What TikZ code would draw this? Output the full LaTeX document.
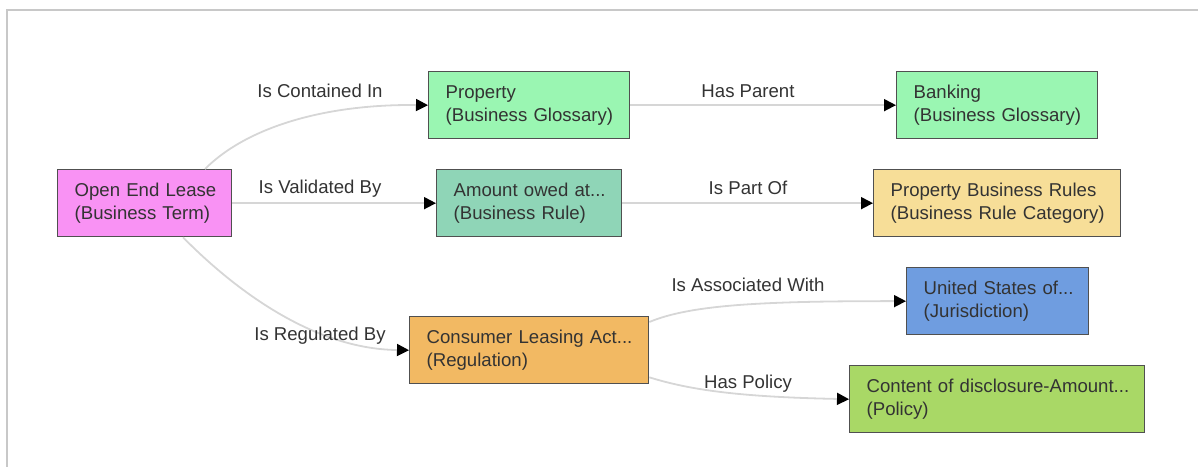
\documentclass[tikz,border=0pt]{standalone}
\usepackage{fontspec}
\setmainfont{Liberation Sans}
\usetikzlibrary{arrows.meta}
\definecolor{txt}{HTML}{333333}
\definecolor{edgec}{HTML}{D6D6D6}
\definecolor{framec}{HTML}{C8C8C8}
\definecolor{bord}{HTML}{505050}
\definecolor{cpink}{HTML}{F992F4}
\definecolor{cmint}{HTML}{9AF6B2}
\definecolor{caqua}{HTML}{8FD5B7}
\definecolor{cyell}{HTML}{F7DE98}
\definecolor{corange}{HTML}{F2B963}
\definecolor{cblue}{HTML}{6F9DE0}
\definecolor{clime}{HTML}{A9D866}
\newcommand{\twolines}[2]{\mbox{#1}\\\mbox{#2}}
\begin{document}
\begin{tikzpicture}[x=1pt,y=-1pt,
  every node/.style={font=\fontsize{18.6}{23}\selectfont, text=txt},
  box/.style={draw=bord, line width=1.3pt, rectangle, anchor=north west,
     inner xsep=17pt, inner ysep=0pt, align=left, minimum height=67pt},
  lbl/.style={inner sep=1pt},
  rel/.style={draw=edgec, line width=1.8pt,
     -{Triangle[length=12pt,width=12pt,color=black]}},
  frame/.style={draw=framec, line width=2pt}
]
\useasboundingbox (0,0) rectangle (1198,467);
\draw[frame] (1198,10) -- (7,10) -- (7,467);

\node[box, fill=cpink, text width=140pt] (open) at (57,169) {\twolines{Open End Lease}{(Business Term)}};
\node[box, fill=cmint, text width=167pt] (prop) at (428,71) {\twolines{Property}{(Business Glossary)}};
\node[box, fill=cmint, text width=167pt] (bank) at (896,71) {\twolines{Banking}{(Business Glossary)}};
\node[box, fill=caqua, text width=151pt] (amt) at (436,169) {\twolines{Amount owed at...}{(Business Rule)}};
\node[box, fill=cyell, text width=213pt] (pbr) at (873,169) {\twolines{Property Business Rules}{(Business Rule Category)}};
\node[box, fill=corange, text width=205pt] (cons) at (409,316) {\twolines{Consumer Leasing Act...}{(Regulation)}};
\node[box, fill=cblue, text width=148pt] (us) at (906,267) {\twolines{United States of...}{(Jurisdiction)}};
\node[box, fill=clime, text width=261pt] (pol) at (849,365) {\twolines{Content of disclosure-Amount...}{(Policy)}};

\draw[rel] ([xshift=148pt]open.north west) .. controls (247,127) and (325,104) .. (prop.west);
\draw[rel] (open.east) -- (amt.west);
\draw[rel] ([xshift=126pt]open.south west) .. controls (230,285) and (310,349) .. (cons.west);
\draw[rel] (prop.east) -- (bank.west);
\draw[rel] (amt.east) -- (pbr.west);
\draw[rel] ([yshift=-6pt]cons.north east) .. controls (690,305) and (760,301) .. (us.west);
\draw[rel] ([yshift=7pt]cons.south east) .. controls (690,390) and (740,397) .. (pol.west);

\node[lbl] (l1) at (320,91) {Is Contained In};
\node[lbl] (l2) at (320,189) {Is Validated By};
\node[lbl] (l3) at (320,336) {Is Regulated By};
\node[lbl] (l4) at (748,91) {Has Parent};
\node[lbl] (l5) at (748,188) {Is Part Of};
\node[lbl] (l6) at (748,285) {Is Associated With};
\node[lbl] (l7) at (748,384) {Has Policy};
\end{tikzpicture}
\end{document}
